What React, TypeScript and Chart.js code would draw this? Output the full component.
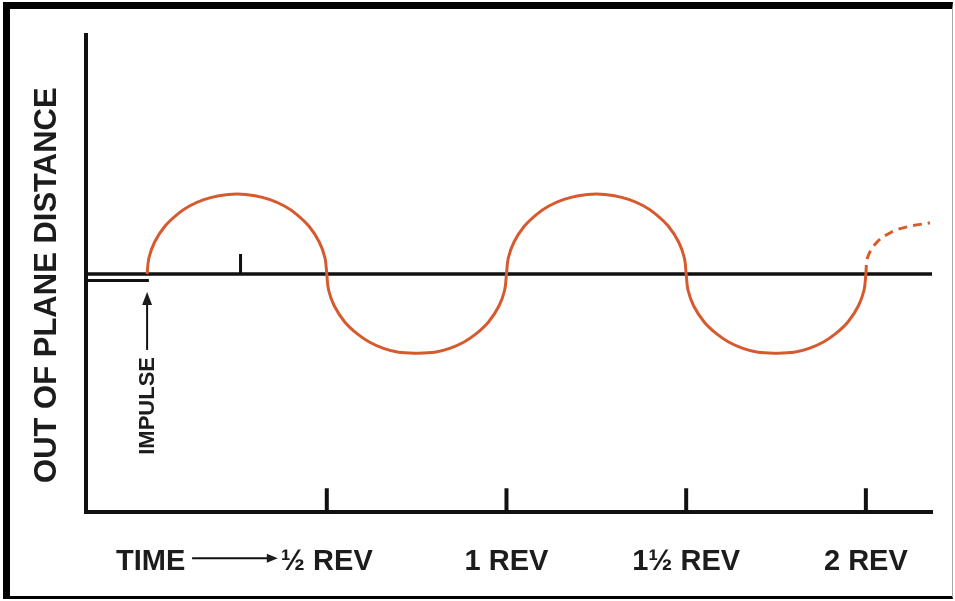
import React, { useEffect, useRef } from "react";
import { Chart, registerables } from "chart.js";

Chart.register(...registerables);

// ---- data ----
const X_MIN = -0.17;
const X_MAX = 2.184;
const Y_MIN = -2.98;
const Y_MAX = 2.99;

const X_TICK_VALUES = [0.01, 0.5, 1, 1.5, 2];
const X_TICK_LABELS = ["TIME", "½ REV", "1 REV", "1½ REV", "2 REV"];
const REV_MARKS = [0.5, 1, 1.5, 2];
const REV_MARK_HEIGHT = 0.3;
const Y_TITLE = "OUT OF PLANE DISTANCE";
const IMPULSE_LABEL = "IMPULSE";

const CURVE_REV = [
  0, 0.005, 0.021, 0.05, 0.085, 0.118, 0.158, 0.2, 0.25, 0.3, 0.342, 0.382, 0.415, 0.45, 0.479, 0.495, 0.5,
  0.505, 0.521, 0.55, 0.585, 0.618, 0.658, 0.7, 0.75, 0.8, 0.842, 0.882, 0.915, 0.95, 0.979, 0.995, 1.0,
  1.005, 1.021, 1.05, 1.085, 1.118, 1.158, 1.2, 1.25, 1.3, 1.342, 1.382, 1.415, 1.45, 1.479, 1.495, 1.5,
  1.505, 1.521, 1.55, 1.585, 1.618, 1.658, 1.7, 1.75, 1.8, 1.842, 1.882, 1.915, 1.95, 1.979, 1.995, 2.0,
];
const CURVE_DIST = [
  0, 0.2, 0.4, 0.6, 0.75, 0.85, 0.93, 0.98, 1.0, 0.98, 0.93, 0.85, 0.75, 0.6, 0.4, 0.2, 0,
  -0.2, -0.4, -0.6, -0.75, -0.85, -0.93, -0.98, -0.99, -0.98, -0.93, -0.85, -0.75, -0.6, -0.4, -0.2, 0,
  0.2, 0.4, 0.6, 0.75, 0.85, 0.93, 0.98, 1.0, 0.98, 0.93, 0.85, 0.75, 0.6, 0.4, 0.2, 0,
  -0.2, -0.4, -0.6, -0.75, -0.85, -0.93, -0.98, -0.99, -0.98, -0.93, -0.85, -0.75, -0.6, -0.4, -0.2, 0,
];
const DASH_REV = [2.0, 2.005, 2.031, 2.072, 2.114, 2.178];
const DASH_DIST = [0, 0.21, 0.4, 0.525, 0.59, 0.64];

const PRE_IMPULSE_LEVEL = -0.08;
const PRE_IMPULSE_END = 0.005;
const QUARTER_MARK_REV = 0.26;
const QUARTER_MARK_HEIGHT = 0.25;
const IMPULSE_REV = 0;
const IMPULSE_ARROW_FROM = -0.95;
const IMPULSE_ARROW_TIP = -0.225;
const IMPULSE_LABEL_DIST = -1.65;

// ---- styles ----
const CURVE_COLOR = "#d65a2e";
const INK = "#111111";
const TEXT = "#1c1c1c";
const FONT = '"Liberation Sans", Arial, Helvetica, sans-serif';

const pts = (xs: number[], ys: number[]) => xs.map((x, i) => ({ x, y: ys[i] }));

const blackSeg = (data: { x: number; y: number }[], width: number) => ({
  data,
  showLine: true,
  borderColor: INK,
  borderWidth: width,
  pointRadius: 0,
  tension: 0,
  borderCapStyle: "butt" as const,
});

const annotate = {
  id: "annotate",
  afterDatasetsDraw(chart: any) {
    const { ctx, chartArea } = chart;
    const x = chart.scales.x;
    const y = chart.scales.y;
    ctx.save();
    ctx.fillStyle = TEXT;
    ctx.strokeStyle = INK;

    // y axis title
    ctx.save();
    ctx.translate(chartArea.left - 39, y.getPixelForValue(-0.14));
    ctx.rotate(-Math.PI / 2);
    ctx.font = `bold 31px ${FONT}`;
    ctx.textAlign = "center";
    ctx.textBaseline = "middle";
    ctx.fillText(Y_TITLE, 0, 0);
    ctx.restore();

    // impulse label
    const ix = x.getPixelForValue(IMPULSE_REV);
    ctx.save();
    ctx.translate(ix + 1, y.getPixelForValue(IMPULSE_LABEL_DIST));
    ctx.rotate(-Math.PI / 2);
    ctx.font = `bold 22px ${FONT}`;
    ctx.textAlign = "center";
    ctx.textBaseline = "middle";
    ctx.fillText(IMPULSE_LABEL, 0, 0);
    ctx.restore();

    // impulse arrow
    const tipY = y.getPixelForValue(IMPULSE_ARROW_TIP);
    const baseY = y.getPixelForValue(IMPULSE_ARROW_FROM);
    ctx.lineWidth = 2;
    ctx.beginPath();
    ctx.moveTo(ix, baseY);
    ctx.lineTo(ix, tipY + 10);
    ctx.stroke();
    ctx.beginPath();
    ctx.moveTo(ix, tipY);
    ctx.lineTo(ix - 5, tipY + 13);
    ctx.lineTo(ix + 5, tipY + 13);
    ctx.closePath();
    ctx.fill();

    // time arrow
    const ty = chartArea.bottom + 46;
    const tx0 = x.getPixelForValue(0) + 45;
    const tx1 = x.getPixelForValue(0.5) - 49;
    ctx.beginPath();
    ctx.moveTo(tx0, ty);
    ctx.lineTo(tx1 - 9, ty);
    ctx.stroke();
    ctx.beginPath();
    ctx.moveTo(tx1, ty);
    ctx.lineTo(tx1 - 11, ty - 4.5);
    ctx.lineTo(tx1 - 11, ty + 4.5);
    ctx.closePath();
    ctx.fill();

    ctx.restore();
  },
};

export default function App() {
  const ref = useRef<HTMLCanvasElement | null>(null);

  useEffect(() => {
    document.body.style.margin = "0";
    document.body.style.background = "#ffffff";
    if (!ref.current) return;

    const datasets: any[] = [
      {
        data: pts(CURVE_REV, CURVE_DIST),
        showLine: true,
        borderColor: CURVE_COLOR,
        borderWidth: 3,
        pointRadius: 0,
        tension: 0.35,
      },
      {
        data: pts(DASH_REV, DASH_DIST),
        showLine: true,
        borderColor: CURVE_COLOR,
        borderWidth: 3,
        borderDash: [9, 6],
        pointRadius: 0,
        tension: 0.35,
      },
      blackSeg([{ x: X_MIN, y: 0 }, { x: X_MAX, y: 0 }], 3.5),
      blackSeg([{ x: X_MIN, y: PRE_IMPULSE_LEVEL }, { x: PRE_IMPULSE_END, y: PRE_IMPULSE_LEVEL }], 3),
      blackSeg([{ x: QUARTER_MARK_REV, y: 0 }, { x: QUARTER_MARK_REV, y: QUARTER_MARK_HEIGHT }], 3),
      ...REV_MARKS.map((r) => blackSeg([{ x: r, y: Y_MIN }, { x: r, y: Y_MIN + REV_MARK_HEIGHT }], 4)),
    ];

    const chart = new Chart(ref.current, {
      type: "scatter",
      data: { datasets },
      plugins: [annotate],
      options: {
        animation: false,
        responsive: false,
        events: [],
        layout: { padding: { left: 86, top: 35, right: 23, bottom: 1 } },
        plugins: { legend: { display: false }, tooltip: { enabled: false } },
        scales: {
          x: {
            type: "linear",
            min: X_MIN,
            max: X_MAX,
            grid: { display: false, drawTicks: false },
            border: { display: true, color: INK, width: 4 },
            afterBuildTicks: (scale: any) => {
              scale.ticks = X_TICK_VALUES.map((v) => ({ value: v }));
            },
            ticks: {
              autoSkip: false,
              maxRotation: 0,
              minRotation: 0,
              padding: 32,
              color: TEXT,
              font: { family: FONT, size: 29, weight: "bold", lineHeight: 1.2 },
              callback: (_v: any, i: number) => X_TICK_LABELS[i],
            },
          },
          y: {
            type: "linear",
            min: Y_MIN,
            max: Y_MAX,
            grid: { display: false, drawTicks: false },
            border: { display: true, color: INK, width: 4 },
            ticks: { display: false },
          },
        },
      },
    });
    return () => chart.destroy();
  }, []);

  return (
    <div style={{ position: "relative", width: 955, height: 601, background: "#fff", overflow: "hidden" }}>
      <div
        style={{
          position: "absolute",
          left: 3,
          top: 2,
          width: 950,
          height: 597,
          boxSizing: "border-box",
          borderTop: "7px solid #000",
          borderLeft: "7px solid #000",
          borderBottom: "3px solid #000",
          borderRight: "1px solid #aaa",
        }}
      />
      <canvas ref={ref} width={955} height={612} style={{ position: "absolute", left: 0, top: 0 }} />
    </div>
  );
}
